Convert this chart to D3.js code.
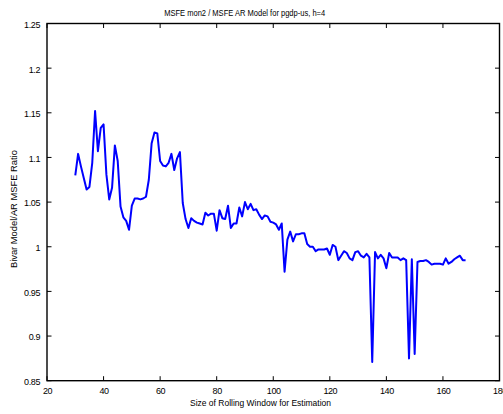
<!DOCTYPE html>
<html>
<head>
<meta charset="utf-8">
<script src="https://cdn.jsdelivr.net/npm/d3@7"></script>
<style>
  html, body { margin: 0; padding: 0; background: #fff; }
  svg { display: block; }
  text { font-family: "Liberation Sans", Arial, sans-serif; fill: #000; }
</style>
</head>
<body>
<svg id="chart" width="503" height="414"></svg>
<script>
const titleText = "MSFE mon2 / MSFE AR Model for pgdp-us, h=4";
const xLabelText = "Size of Rolling Window for Estimation";
const yLabelText = "Bivar Model/AR MSFE Ratio";

const xTicks = [20, 40, 60, 80, 100, 120, 140, 160, 180];
const xTickLabels = ["20", "40", "60", "80", "100", "120", "140", "160", "180"];
const yTicks = [0.85, 0.9, 0.95, 1.0, 1.05, 1.1, 1.15, 1.2, 1.25];
const yTickLabels = ["0.85", "0.9", "0.95", "1", "1.05", "1.1", "1.15", "1.2", "1.25"];

const windowSizes = [
  30,31,32,33,34,35,36,37,38,39,40,41,42,43,44,45,46,47,48,49,
  50,51,52,53,54,55,56,57,58,59,60,61,62,63,64,65,66,67,68,69,
  70,71,72,73,74,75,76,77,78,79,80,81,82,83,84,85,86,87,88,89,
  90,91,92,93,94,95,96,97,98,99,100,101,102,103,104,105,106,107,108,109,
  110,111,112,113,114,115,116,117,118,119,120,121,122,123,124,125,126,127,128,129,
  130,131,132,133,134,135,136,137,138,139,140,141,142,143,144,145,146,147,148,149,
  150,151,152,153,154,155,156,157,158,159,160,161,162,163,164,165,166,167,168
];
const msfeRatio = [
  1.080,1.104,1.090,1.077,1.064,1.067,1.094,1.152,1.107,1.133,1.137,1.081,1.053,1.066,1.1135,1.096,1.045,1.033,1.029,1.019,
  1.046,1.054,1.054,1.053,1.054,1.056,1.075,1.116,1.128,1.127,1.096,1.091,1.090,1.094,1.104,1.086,1.099,1.106,1.049,1.031,
  1.021,1.032,1.029,1.027,1.026,1.025,1.038,1.035,1.037,1.037,1.018,1.041,1.032,1.031,1.046,1.021,1.026,1.026,1.044,1.034,
  1.050,1.042,1.048,1.041,1.042,1.036,1.031,1.035,1.034,1.028,1.027,1.025,1.019,1.026,0.972,1.008,1.017,1.006,1.014,1.014,
  1.015,1.015,1.003,1.000,1.000,0.995,0.997,0.997,0.997,0.998,0.991,1.002,1.000,0.985,0.990,0.995,0.993,0.987,0.985,0.994,
  0.995,0.990,0.988,0.992,0.988,0.871,0.994,0.987,0.991,0.987,0.976,0.993,0.988,0.988,0.988,0.985,0.987,0.985,0.875,0.986,
  0.880,0.983,0.984,0.984,0.985,0.983,0.980,0.981,0.981,0.981,0.980,0.987,0.981,0.983,0.986,0.988,0.990,0.985,0.985
];

const svg = d3.select("#chart");
const L = 47, R = 499.5, T = 23.5, B = 380.7;

const x = d3.scaleLinear().domain([20, 180]).range([L, R]);
const y = d3.scaleLinear().domain([0.85, 1.25]).range([B, T]);

const tickLen = 4.5;

// Bottom axis
const gx = svg.append("g").attr("transform", `translate(0,${B})`)
  .call(d3.axisBottom(x).tickValues(xTicks).tickSize(0).tickPadding(0)
    .tickFormat((d, i) => xTickLabels[i]));
gx.select(".domain").remove();
gx.selectAll("text").attr("y", 13.3).attr("dy", null)
  .style("font-size", "9px").style("letter-spacing", "-0.4px");

// Left axis
const gy = svg.append("g").attr("transform", `translate(${L},0)`)
  .call(d3.axisLeft(y).tickValues(yTicks).tickSize(0).tickPadding(0)
    .tickFormat((d, i) => yTickLabels[i]));
gy.select(".domain").remove();
gy.selectAll("text").attr("x", -7).attr("dy", "0.32em").attr("y", 1)
  .style("font-size", "9px").style("letter-spacing", "-0.4px");

// Inward ticks on all four sides
const tickG = svg.append("g").attr("stroke", "#000").attr("stroke-width", 1);
xTicks.forEach(v => {
  tickG.append("line").attr("x1", x(v)).attr("x2", x(v)).attr("y1", B).attr("y2", B - tickLen);
  tickG.append("line").attr("x1", x(v)).attr("x2", x(v)).attr("y1", T).attr("y2", T + tickLen);
});
yTicks.forEach(v => {
  tickG.append("line").attr("x1", L).attr("x2", L + tickLen).attr("y1", y(v)).attr("y2", y(v));
  tickG.append("line").attr("x1", R).attr("x2", R - tickLen).attr("y1", y(v)).attr("y2", y(v));
});

// Box
svg.append("rect").attr("x", L).attr("y", T).attr("width", R - L).attr("height", B - T)
  .attr("fill", "none").attr("stroke", "#000").attr("stroke-width", 1.4);

// Data line
const pts = windowSizes.map((w, i) => [w, msfeRatio[i]]);
svg.append("path").datum(pts)
  .attr("fill", "none").attr("stroke", "#0000ff").attr("stroke-width", 2)
  .attr("stroke-linejoin", "round")
  .attr("d", d3.line().x(d => x(d[0])).y(d => y(d[1])));

// Title
svg.append("text").attr("x", 244.7).attr("y", 16).attr("text-anchor", "middle")
  .attr("textLength", 161).attr("lengthAdjust", "spacingAndGlyphs")
  .style("font-size", "9px").text(titleText);

// X label
svg.append("text").attr("x", 260.5).attr("y", 405.5).attr("text-anchor", "middle")
  .attr("textLength", 141).attr("lengthAdjust", "spacingAndGlyphs")
  .style("font-size", "9px").text(xLabelText);

// Y label
svg.append("text").attr("transform", `translate(17,${(T + B) / 2 + 7}) rotate(-90)`)
  .attr("text-anchor", "middle")
  .attr("textLength", 118).attr("lengthAdjust", "spacingAndGlyphs")
  .style("font-size", "9px").text(yLabelText);
</script>
</body>
</html>
